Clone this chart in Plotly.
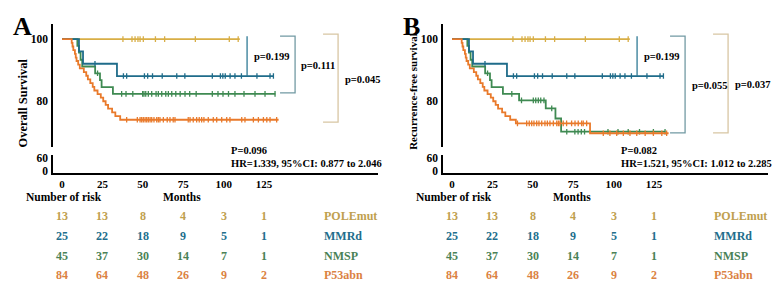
import numpy as np
import plotly.graph_objects as go

W, H = 782, 298
FONT = "Liberation Serif"

# ---------------- data ----------------
groups = ["POLEmut", "MMRd", "NMSP", "P53abn"]
line_colors = {"POLEmut": "#D8AE45", "MMRd": "#1F6C8A", "NMSP": "#3F8A52", "P53abn": "#E97A2B"}
text_colors = {"POLEmut": "#BFA04E", "MMRd": "#226E8C", "NMSP": "#4A8256", "P53abn": "#DB8242"}

risk_months = [0, 25, 50, 75, 100, 125]
risk_pole = [13, 13, 8, 4, 3, 1]
risk_mmrd = [25, 22, 18, 9, 5, 1]
risk_nmsp = [45, 37, 30, 14, 7, 1]
risk_p53 = [84, 64, 48, 26, 9, 2]

# Panel A : overall survival
a_pole_t, a_pole_s, a_pole_end = [], [], 110
a_pole_c = [37.7, 43.3, 45.2, 47, 48.3, 50.3, 57.8, 63.5, 82.5, 103.5, 109]
a_mmrd_t = [10.5, 13, 34]
a_mmrd_s = [96, 92, 88]
a_mmrd_end = 130.8
a_mmrd_c = [20.4, 38, 40, 51, 53, 56, 62, 71, 76, 93, 98, 99.5, 101, 104, 107, 111, 120.6, 128.7, 130.8]
a_nmsp_t = [9.5, 10.5, 11.5, 12.5, 20.5, 23.5, 24.5, 31.5]
a_nmsp_s = [97.8, 95.6, 93.3, 91.1, 88.9, 86.7, 84.4, 82.2]
a_nmsp_end = 132
a_nmsp_c = [22, 36.9, 39.6, 43.8, 49.9, 50.7, 51.8, 53.4, 55.5, 58.2, 59.6, 61.7, 64.2, 65.8,
            67.9, 70.4, 73.1, 76.1, 79, 83, 93, 96.5, 99.6, 103, 107, 112.6, 119.4, 125.6, 131.8]
a_p53_t = [6, 6.5, 7, 8, 8.5, 9, 10, 11, 13.5, 15, 16, 17.5, 19, 20, 22, 24, 25.5, 27, 28.5, 31, 33, 36]
a_p53_s = [98.8, 97.6, 96.4, 95.2, 94.0, 92.9, 91.7, 90.5, 89.3, 88.1, 86.9, 85.7, 84.5, 83.3,
           82.1, 81.0, 79.8, 78.6, 77.4, 76.2, 75.0, 73.8]
a_p53_end = 134
a_p53_c = [40, 46.6, 48.3, 49.3, 50.3, 51.4, 52.4, 53.4, 54.5, 55.5, 56.9, 58.6, 59.6, 60.6, 62.7,
           65.1, 66.8, 68.8, 69.9, 78.1, 79.2, 81.2, 83.3, 84.9, 86.4, 87.8, 90.5, 93.6, 95.7, 98.8,
           101.9, 103.9, 111.2, 113.2, 118.4, 121.5, 124.6, 126.7, 128.7, 132.8]

# Panel B : recurrence-free survival
b_pole_t, b_pole_s, b_pole_end = [], [], 110
b_pole_c = a_pole_c
b_mmrd_t, b_mmrd_s, b_mmrd_end, b_mmrd_c = a_mmrd_t, a_mmrd_s, a_mmrd_end, a_mmrd_c
b_nmsp_t = [9.5, 10.5, 11.5, 12.5, 20.5, 23.5, 24.5, 31.5, 41.5, 58, 64, 67.5]
b_nmsp_s = [97.8, 95.6, 93.3, 91.1, 88.9, 86.7, 84.4, 82.2, 80.1, 77.5, 74.2, 69.9]
b_nmsp_end = 132
b_nmsp_c = [22, 37, 43, 50.3, 51.8, 53.4, 54.9, 56.9, 61.7, 71, 76, 78, 80, 82, 96.5, 102.7,
            109, 116, 124.6, 131.8]
b_p53_t = a_p53_t + [39.5, 85.4]
b_p53_s = a_p53_s + [72.6, 69.4]
b_p53_end = 134
b_p53_c = [40.5, 46.2, 47.8, 49.3, 50.7, 52.4, 53.8, 55.5, 57.5, 59, 60.6, 62.7, 64.8, 65.8, 66.8,
           68.8, 70.9, 74, 76.1, 78.1, 80.2, 81.2, 83.3, 93.6, 97.7, 101.9, 106, 110.1, 114.3,
           119.5, 124.6, 129.8, 132.8]

panels = [
    dict(letter="A", ytitle="Overall Survival", p_text="P=0.096", hr_text="HR=1.339, 95%CI: 0.877 to 2.046",
         curves={"POLEmut": (a_pole_t, a_pole_s, a_pole_end, a_pole_c),
                 "MMRd": (a_mmrd_t, a_mmrd_s, a_mmrd_end, a_mmrd_c),
                 "NMSP": (a_nmsp_t, a_nmsp_s, a_nmsp_end, a_nmsp_c),
                 "P53abn": (a_p53_t, a_p53_s, a_p53_end, a_p53_c)},
         pvals=["p=0.199", "p=0.111", "p=0.045"]),
    dict(letter="B", ytitle="Recurrence-free survival", p_text="P=0.082", hr_text="HR=1.521, 95%CI: 1.012 to 2.285",
         curves={"POLEmut": (b_pole_t, b_pole_s, b_pole_end, b_pole_c),
                 "MMRd": (b_mmrd_t, b_mmrd_s, b_mmrd_end, b_mmrd_c),
                 "NMSP": (b_nmsp_t, b_nmsp_s, b_nmsp_end, b_nmsp_c),
                 "P53abn": (b_p53_t, b_p53_s, b_p53_end, b_p53_c)},
         pvals=["p=0.199", "p=0.055", "p=0.037"]),
]
risk = {"POLEmut": risk_pole, "MMRd": risk_mmrd, "NMSP": risk_nmsp, "P53abn": risk_p53}

# ---------------- helpers ----------------
def py(p):  # pixel y -> paper
    return 1 - p / H

def px(p):
    return p / W

def level_at(times, surv, t):
    lv = [100] + list(surv)
    return lv[int(np.searchsorted(times, t, side="right"))]

fig = go.Figure()
layout = {}
shapes, annots = [], []

XR = [-5.57, 195.5]
bold = dict(family=FONT, color="black", weight="bold")

for i, pan in enumerate(panels):
    off = 390 * i
    xa = "x" if i == 0 else "x2"
    ya = "y" if i == 0 else "y3"
    yb = "y2" if i == 0 else "y4"
    xk = "xaxis" if i == 0 else "xaxis2"
    yk = "yaxis" if i == 0 else "yaxis3"
    ybk = "yaxis2" if i == 0 else "yaxis4"

    layout[xk] = dict(domain=[px(53 + off), px(378 + off)], range=XR, anchor=yb, showline=True,
                      linecolor="black", linewidth=1.5, tickvals=risk_months, ticks="",
                      tickfont=dict(size=11, **bold), showgrid=False, zeroline=False, ticklabelstandoff=0)
    layout[yk] = dict(domain=[py(147), py(21)], range=[65.08, 105.08], anchor=xa, showline=True,
                      linecolor="black", linewidth=1.5, tickvals=[80, 100], ticks="",
                      tickfont=dict(size=11.5, **bold), showgrid=False, zeroline=False, ticklabelstandoff=1)
    layout[ybk] = dict(domain=[py(174), py(156)], range=[-9.2, 73.8], anchor=xa, showline=True,
                      linecolor="black", linewidth=1.5, tickvals=[0, 60], ticks="",
                      tickfont=dict(size=11.5, **bold), showgrid=False, zeroline=False, ticklabelstandoff=1)

    # invisible trace so that the lower (broken) axis segment and bottom x axis are created
    fig.add_trace(go.Scatter(x=[0], y=[30], mode="markers", marker=dict(opacity=0), xaxis=xa, yaxis=yb,
                             showlegend=False, hoverinfo="skip"))

    for g in ["POLEmut", "NMSP", "MMRd", "P53abn"]:
        t, s, end, cens = pan["curves"][g]
        xs = [0] + list(t) + [end]
        ys = [100] + list(s) + [s[-1] if s else 100]
        fig.add_trace(go.Scatter(x=xs, y=ys, mode="lines", line=dict(color=line_colors[g], width=1.8, shape="hv"),
                                 xaxis=xa, yaxis=ya, showlegend=False, hoverinfo="skip"))
        cy = [level_at(t, s, c) for c in cens]
        fig.add_trace(go.Scatter(x=cens, y=cy, mode="markers",
                                 marker=dict(symbol="line-ns", size=4, line=dict(color=line_colors[g], width=1.3)),
                                 xaxis=xa, yaxis=ya, showlegend=False, hoverinfo="skip"))

    # brackets
    shapes.append(dict(type="line", xref=xa, yref=ya, x0=114.5, x1=114.5, y0=100.95, y1=88,
                       line=dict(color="#2F7A95", width=1.3)))
    b2_bot = 82.5 if i == 0 else 69.5
    b3_bot = 73.0 if i == 0 else 69.5
    shapes.append(dict(type="path", xref=xa, yref=ya,
                       path=f"M 134.9,100.95 L 144.2,100.95 L 144.2,{b2_bot} L 134.9,{b2_bot}",
                       line=dict(color="#7199A3", width=1.3)))
    shapes.append(dict(type="path", xref=xa, yref=ya,
                       path=f"M 161.5,101.6 L 170.8,101.6 L 170.8,{b3_bot} L 161.5,{b3_bot}",
                       line=dict(color="#D8C6A3", width=1.3)))
    pf = dict(size=10.5, **bold)
    annots.append(dict(text=pan["pvals"][0], xref=xa, yref=ya, x=117.6, y=94.3, xanchor="left",
                       yanchor="middle", showarrow=False, font=pf))
    if i == 0:
        annots.append(dict(text=pan["pvals"][1], xref=xa, yref=ya, x=146.7, y=91.4, xanchor="left",
                           yanchor="middle", showarrow=False, font=pf))
        annots.append(dict(text=pan["pvals"][2], xref=xa, yref=ya, x=173.9, y=87.0, xanchor="left",
                           yanchor="middle", showarrow=False, font=pf))
    else:
        annots.append(dict(text=pan["pvals"][1], xref=xa, yref=ya, x=147.3, y=84.8, xanchor="left",
                           yanchor="middle", showarrow=False, font=pf))
        annots.append(dict(text=pan["pvals"][2], xref=xa, yref=ya, x=173.9, y=85.4, xanchor="left",
                           yanchor="middle", showarrow=False, font=pf))

    annots.append(dict(text=pan["p_text"], xref=xa, yref="paper", x=103.3, y=py(151), xanchor="left",
                       yanchor="middle", showarrow=False, font=pf))
    annots.append(dict(text=pan["hr_text"], xref=xa, yref="paper", x=103.3, y=py(164), xanchor="left",
                       yanchor="middle", showarrow=False, font=pf))

    # letter and y title
    annots.append(dict(text=pan["letter"], xref="paper", yref="paper", x=px(22 + off), y=py(24),
                       xanchor="center", yanchor="middle", showarrow=False, font=dict(size=26, **bold)))
    ty = 103 if i == 0 else 91
    tsize = 12.5 if i == 0 else 11
    annots.append(dict(text=pan["ytitle"], xref="paper", yref="paper", x=px(23 + off), y=py(ty),
                       xanchor="center", yanchor="middle", textangle=-90, showarrow=False,
                       font=dict(size=tsize, **bold)))

    # risk table
    annots.append(dict(text="Number of risk", xref="paper", yref="paper", x=px(24 + off), y=py(199),
                       xanchor="left", yanchor="middle", showarrow=False, font=dict(size=11.5, **bold)))
    annots.append(dict(text="Months", xref="paper", yref="paper", x=px(182 + off), y=py(199),
                       xanchor="center", yanchor="middle", showarrow=False, font=dict(size=11.5, **bold)))
    row_y = {"POLEmut": 218, "MMRd": 239, "NMSP": 259, "P53abn": 279}
    for g in groups:
        for m, n in zip(risk_months, risk[g]):
            annots.append(dict(text=str(n), xref=xa, yref="paper", x=m, y=py(row_y[g]), xanchor="center",
                               yanchor="middle", showarrow=False,
                               font=dict(family=FONT, size=12, color=text_colors[g], weight="bold")))
        annots.append(dict(text=g, xref=xa, yref="paper", x=160.9, y=py(row_y[g]), xanchor="left",
                           yanchor="middle", showarrow=False,
                           font=dict(family=FONT, size=12, color=text_colors[g], weight="bold")))

fig.update_layout(width=W, height=H, margin=dict(l=0, r=0, t=0, b=0), paper_bgcolor="white",
                  plot_bgcolor="white", showlegend=False, shapes=shapes, annotations=annots,
                  font=dict(family=FONT), **layout)
fig.write_html("out.html", config={"displayModeBar": False},
               post_script="document.body.style.margin='0px';")
